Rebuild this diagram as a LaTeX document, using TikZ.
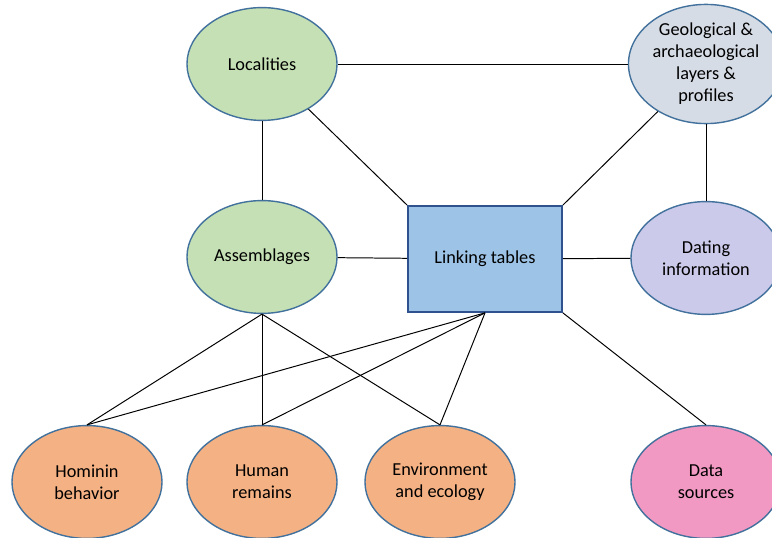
\documentclass[tikz,border=0pt]{standalone}
\usepackage{fontspec}
\setmainfont{Carlito}
\usepackage{xcolor}
\definecolor{locgreen}{RGB}{197,224,180}
\definecolor{geogray}{RGB}{214,220,229}
\definecolor{linkblue}{RGB}{157,195,230}
\definecolor{datlilac}{RGB}{204,202,234}
\definecolor{topicorange}{RGB}{244,177,131}
\definecolor{srcpink}{RGB}{241,153,194}
\definecolor{edgeblue}{RGB}{65,113,156}
\definecolor{boxedge}{RGB}{47,82,143}
\usepackage{tikz}
\usetikzlibrary{shapes.geometric}

\begin{document}
\begin{tikzpicture}[
  x=0.025cm, y=-0.025cm,
  blob/.style={
    ellipse, draw=edgeblue, line width=1pt,
    minimum width=3.75cm, minimum height=2.82cm, inner sep=1pt,
    align=center, font=\fontsize{13}{15.6}\selectfont
  },
  linkbox/.style={
    rectangle, draw=boxedge, line width=1.2pt, fill=linkblue,
    minimum width=3.85cm, minimum height=2.65cm,
    align=center, font=\fontsize{13}{15.6}\selectfont
  },
  conn/.style={draw=black, line width=0.7pt},
]
\useasboundingbox (0,0) rectangle (772,538);

%% Obere Reihe
\node[blob, fill=locgreen]   (loc)  at (262, 64)  {Localities};
\node[blob, fill=geogray]    (geo)  at (706, 64)  {Geological \&\\archaeological\\layers \&\\profiles};

%% Mittlere Reihe
\node[blob, fill=locgreen]   (asm)  at (262, 257) {Assemblages};
\node[linkbox]               (link) at (485, 259) {Linking tables};
\node[blob, fill=datlilac]   (dat)  at (706, 258) {Dating\\information};

%% Untere Reihe
\node[blob, fill=topicorange] (hom) at (87,  482) {Hominin\\behavior};
\node[blob, fill=topicorange] (hum) at (262, 482) {Human\\remains};
\node[blob, fill=topicorange] (env) at (440, 482) {Environment\\and ecology};
\node[blob, fill=srcpink]     (src) at (706, 482) {Data\\sources};

%% Verbindungen
\draw[conn] (loc.east) -- (geo.west);
\draw[conn] (loc) -- (asm);
\draw[conn] (loc) -- (link.north west);
\draw[conn] (geo) -- (link.north east);
\draw[conn] (geo) -- (dat);
\draw[conn] (asm) -- (link);
\draw[conn] (link) -- (dat);
\draw[conn] (link.south east) -- (src.north);

\draw[conn] (asm.south) -- (hom.north);
\draw[conn] (asm.south) -- (hum.north);
\draw[conn] (asm.south) -- (env.north);
\draw[conn] (link.south) -- (hom.north);
\draw[conn] (link.south) -- (hum.north);
\draw[conn] (link.south) -- (env.north);

\end{tikzpicture}
\end{document}
